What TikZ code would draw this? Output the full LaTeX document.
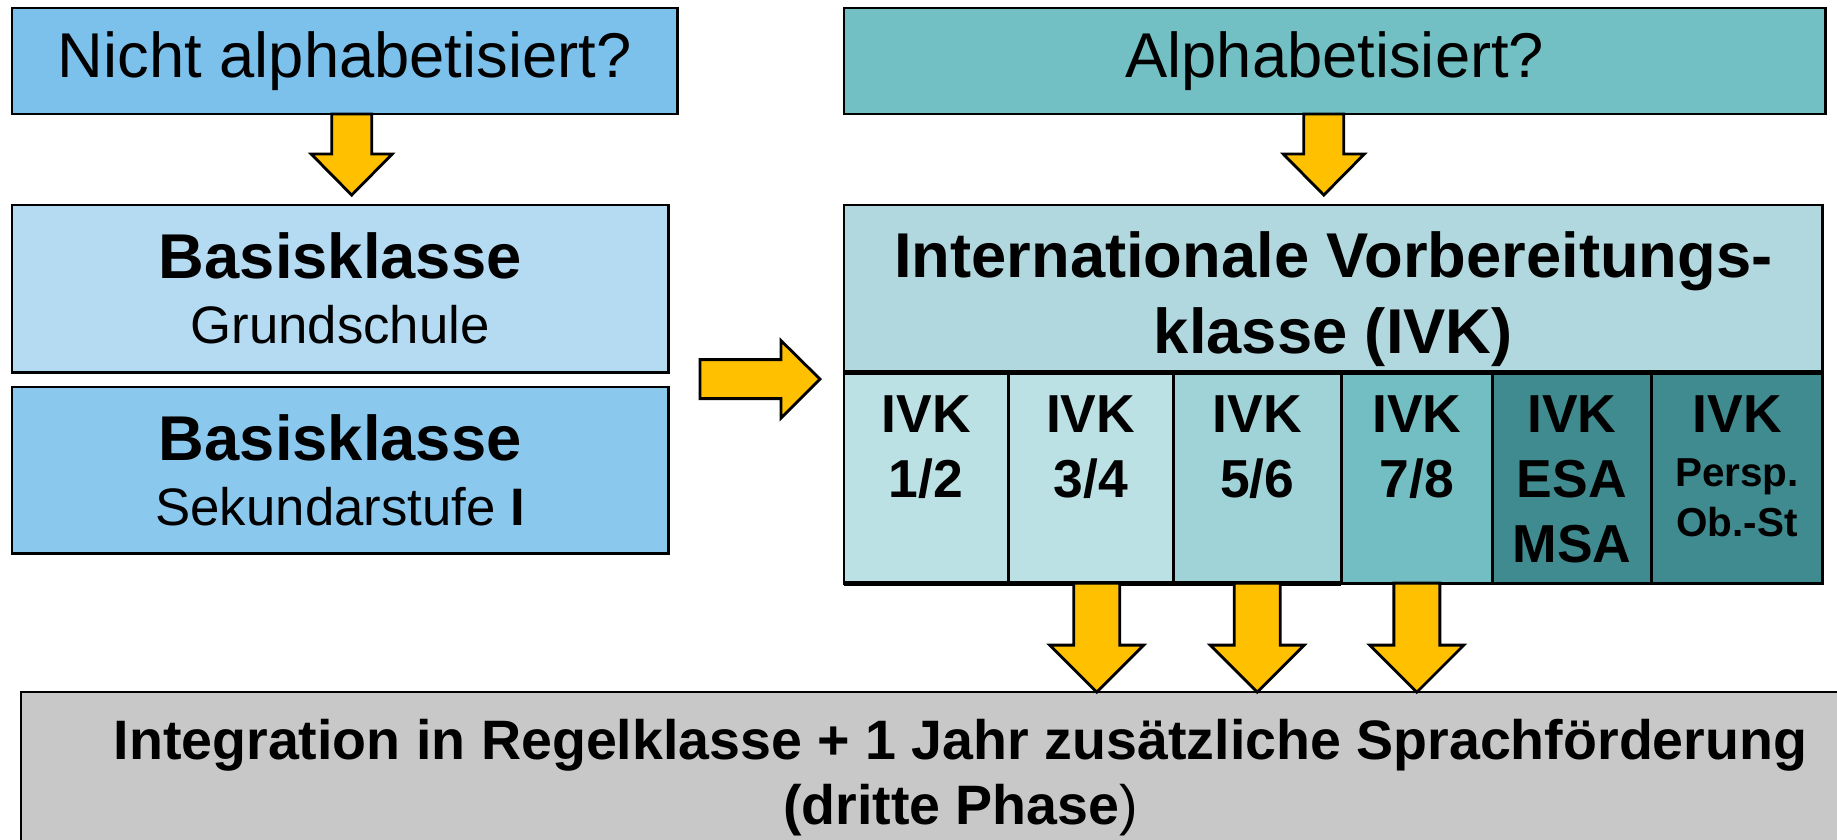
\documentclass[tikz,border=0pt]{standalone}
\usepackage{fontspec}
\setmainfont{Liberation Sans}
\usetikzlibrary{calc,positioning}

\definecolor{nichtblue}{HTML}{7CC1EB}
\definecolor{alphateal}{HTML}{72BFC4}
\definecolor{basislight}{HTML}{B4DBF2}
\definecolor{basisdark}{HTML}{8BC8EE}
\definecolor{ivkheader}{HTML}{B1D8DE}
\definecolor{celllight}{HTML}{BCE1E4}
\definecolor{cellmid}{HTML}{A0D3D7}
\definecolor{cellteal}{HTML}{73BEC3}
\definecolor{celldark}{HTML}{3F8B90}
\definecolor{arrowyellow}{HTML}{FFC000}
\definecolor{bottomgray}{HTML}{C8C8C8}

\begin{document}
\begin{tikzpicture}[x=0.01cm, y=-0.01cm,
    box/.style={draw=black, line width=0.8pt, inner sep=0pt, outer sep=0pt, anchor=north west, align=center},
    cell/.style={box, minimum height=2.11cm},
    celltext/.style={anchor=north, inner sep=0pt, align=center, font=\fontsize{15.2}{18.5}\selectfont\bfseries},
    blockarrow/.style={draw=black, line width=0.8pt, fill=arrowyellow, line join=miter},
    pics/downarrow/.style args={#1/#2/#3/#4}{code={
        \draw[blockarrow] (-#1,0) -- (-#1,#3) -- (-#2,#3) -- (0,#4) -- (#2,#3) -- (#1,#3) -- (#1,0) -- cycle;
    }}]
    \useasboundingbox (0,0) rectangle (1837,839);
    \clip (0,0) rectangle (1837,839);

    % Questions
    \node[box, fill=nichtblue, minimum width=6.65cm, minimum height=1.06cm,
        font=\fontsize{18}{21}\selectfont] (nicht) at (12,8) {Nicht alphabetisiert?};
    \node[box, fill=alphateal, minimum width=9.81cm, minimum height=1.06cm,
        font=\fontsize{18}{21}\selectfont] (alpha) at (844,8) {Alphabetisiert?};

    % Basisklassen
    \node[box, fill=basislight, minimum width=6.56cm, minimum height=1.67cm,
        font=\fontsize{15}{18.5}\selectfont] (basis1) at (12,205)
        {{\fontsize{18}{21}\selectfont\bfseries Basisklasse}\\Grundschule};
    \node[box, fill=basisdark, minimum width=6.56cm, minimum height=1.66cm,
        font=\fontsize{15}{18.5}\selectfont] (basis2) at (12,387)
        {{\fontsize{18}{21}\selectfont\bfseries Basisklasse}\\Sekundarstufe \textbf{I}};

    % IVK
    \node[box, fill=ivkheader, minimum width=9.78cm, minimum height=1.67cm] (ivk) at (844,205) {};
    \node[inner sep=0pt, align=center, font=\fontsize{18}{21.6}\selectfont\bfseries] (ivktitle)
        at ($(ivk.center)+(0,10.5)$) {Internationale Vorbereitungs-\\klasse (IVK)};

    \node[cell, fill=celllight, minimum width=1.64cm] (c12) at (844,372) {};
    \node[cell, fill=celllight, minimum width=1.65cm] (c34) at (c12.north east) {};
    \node[cell, fill=cellmid, minimum width=1.68cm] (c56) at (c34.north east) {};
    \node[cell, fill=cellteal, minimum width=1.51cm] (c78) at (c56.north east) {};
    \node[cell, fill=celldark, minimum width=1.59cm] (cesa) at (c78.north east) {};
    \node[cell, fill=celldark, minimum width=1.71cm] (cpersp) at (cesa.north east) {};
    \draw[line width=1.4pt] (ivk.south west) -- (ivk.south east);
    \draw[line width=1.4pt] (c12.south west) -- (c56.south east);

    \node[celltext] (t12) at ($(c12.north)+(0,23)$) {IVK\\1/2};
    \node[celltext] (t34) at ($(c34.north)+(0,23)$) {IVK\\3/4};
    \node[celltext] (t56) at ($(c56.north)+(0,23)$) {IVK\\5/6};
    \node[celltext] (t78) at ($(c78.north)+(0,23)$) {IVK\\7/8};
    \node[celltext] (tesa) at ($(cesa.north)+(0,23)$) {IVK\\ESA\\MSA};
    \node[celltext, font=\fontsize{11.5}{14.2}\selectfont\bfseries] (tpersp) at ($(cpersp.north)+(0,23)$)
        {{\fontsize{15.2}{18.5}\selectfont IVK}\\[1.2pt]Persp.\\Ob.-St};

    % Regelklasse
    \node[box, fill=bottomgray, minimum width=18.78cm, minimum height=1.72cm,
        font=\fontsize{15.8}{18.5}\selectfont\bfseries] (regel) at (21,692)
        {Integration in Regelklasse + 1 Jahr zus\"atzliche Sprachf\"orderung\\(dritte Phase{\mdseries )}};

    % Arrows
    \pic at ($(nicht.south)+(7,0)$) {downarrow={20/40.5/40/81}};
    \pic at ($(alpha.south)+(-11,0)$) {downarrow={20/40.5/40/81}};
    \draw[blockarrow] ($(ivk.south west)+(-24,7)$) -- ++(-39,-38.5) -- ++(0,19) -- ++(-81,0)
        -- ++(0,39) -- ++(81,0) -- ++(0,19.5) -- cycle;
    \pic at ($(c34.south)+(6,0)$) {downarrow={23/47/62/109}};
    \pic at (c56.south) {downarrow={23/47/62/109}};
    \pic at (c78.south) {downarrow={23/47/62/109}};

\end{tikzpicture}
\end{document}
